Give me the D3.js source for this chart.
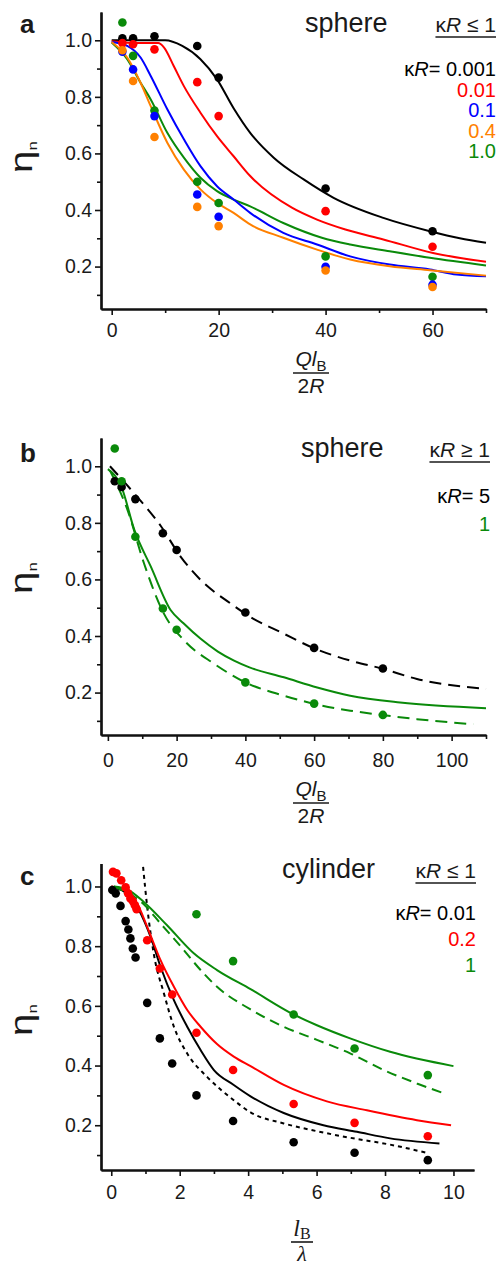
<!DOCTYPE html>
<meta charset="utf-8">
<style>
body { margin: 0; background: #fff; }
svg text { font-family: "Liberation Sans", Arial, sans-serif; fill: #1a1a1a; }
</style>
<body>
<script src="https://d3js.org/d3.v7.min.js"></script>
<script>

// ---------- panel a : sphere, kR <= 1 ----------
var aPtsX    = [2, 4, 8, 16, 20, 40, 60];
var aPts0001 = [1.007, 1.007, 1.014, 0.98, 0.868, 0.476, 0.325];
var aPts001  = [0.99, 0.986, 0.968, 0.852, 0.732, 0.396, 0.27];
var aPts01   = [0.96, 0.897, 0.732, 0.455, 0.376, 0.199, 0.136];
var aPts04   = [0.965, 0.856, 0.658, 0.411, 0.343, 0.186, 0.128];
var aPts10   = [1.063, 0.945, 0.752, 0.5, 0.425, 0.236, 0.164];

var aFit0001X = [0, 5, 10, 13.2, 16.6, 19.7, 22.8, 25.9, 30.3, 35.9, 41.5, 50.8, 59.5, 65.1, 70];
var aFit0001Y = [1.0, 1.0, 1.0, 0.98, 0.933, 0.862, 0.76, 0.673, 0.585, 0.508, 0.443, 0.372, 0.325, 0.3, 0.284];
var aFit001X  = [0, 5, 8.7, 9.8, 11.6, 13.5, 16.6, 19.7, 22.8, 25.9, 33.7, 38.4, 43.7, 50.8, 60.1, 70];
var aFit001Y  = [0.997, 0.99, 0.99, 0.974, 0.909, 0.838, 0.744, 0.661, 0.59, 0.52, 0.408, 0.366, 0.331, 0.296, 0.248, 0.217];
var aFit01X   = [0, 2.9, 5.4, 7.3, 10.4, 13.5, 16.6, 19.7, 22.8, 25.9, 32.1, 38.4, 44.6, 52, 59.5, 64.5, 70];
var aFit01Y   = [0.994, 0.98, 0.939, 0.874, 0.756, 0.65, 0.555, 0.484, 0.437, 0.39, 0.319, 0.278, 0.236, 0.207, 0.19, 0.172, 0.166];
var aFit04X   = [0, 2.9, 5.4, 7.3, 10.4, 13.5, 16.6, 19.7, 22.8, 25.9, 32.1, 38.4, 44.6, 52, 59.5, 70];
var aFit04Y   = [0.994, 0.939, 0.85, 0.767, 0.638, 0.543, 0.473, 0.425, 0.39, 0.349, 0.302, 0.26, 0.225, 0.201, 0.187, 0.168];
var aFit10X   = [0, 2.9, 5.4, 7.3, 10.4, 13.5, 16.6, 19.7, 22.8, 25.9, 32.1, 39.3, 44.6, 52, 59.5, 70];
var aFit10Y   = [0.992, 0.933, 0.85, 0.791, 0.673, 0.585, 0.514, 0.467, 0.437, 0.413, 0.354, 0.302, 0.278, 0.254, 0.231, 0.204];

var aLegend = ["0.001", "0.01", "0.1", "0.4", "1.0"];

// ---------- panel b : sphere, kR >= 1 ----------
var bPtsX  = [2, 4, 8, 16, 20, 40, 60, 80];
var bPts5  = [0.947, 0.927, 0.884, 0.763, 0.704, 0.483, 0.358, 0.285];
var bPts1  = [1.063, 0.947, 0.751, 0.497, 0.422, 0.236, 0.161, 0.121];

var bDash5X  = [0.6, 7.6, 15.5, 21.2, 27, 35.7, 41.5, 51.2, 59.7, 70.5, 79.7, 89.9, 110];
var bDash5Y  = [1.0, 0.905, 0.787, 0.68, 0.598, 0.515, 0.467, 0.408, 0.358, 0.313, 0.285, 0.248, 0.213];
var bSolid1X = [0, 3.9, 7.7, 12.5, 18.3, 22, 27, 32, 36.7, 41, 51.2, 60.9, 70.5, 85, 110];
var bSolid1Y = [0.99, 0.929, 0.775, 0.645, 0.491, 0.445, 0.39, 0.345, 0.313, 0.29, 0.254, 0.218, 0.189, 0.165, 0.145];
var bDash1X  = [0.6, 5.7, 10.5, 16.3, 22.2, 30.9, 40, 51.2, 59.7, 70.5, 79.7, 89.9, 106.3];
var bDash1Y  = [0.985, 0.846, 0.657, 0.479, 0.384, 0.302, 0.236, 0.189, 0.161, 0.136, 0.121, 0.106, 0.088];

var bLegend = ["5", "1"];

// ---------- panel c : cylinder, kR <= 1 ----------
var cPts001X = [0.03, 0.13, 0.27, 0.42, 0.5, 0.56, 0.63, 0.71, 1.05, 1.42, 1.78, 2.49, 3.56, 5.33, 7.11, 9.25];
var cPts001Y = [0.988, 0.977, 0.935, 0.884, 0.856, 0.826, 0.792, 0.762, 0.61, 0.491, 0.407, 0.3, 0.214, 0.143, 0.108, 0.083];
var cPts02X  = [0.05, 0.15, 0.29, 0.42, 0.49, 0.56, 0.63, 0.69, 0.74, 1.05, 1.42, 1.78, 2.49, 3.56, 5.33, 7.11, 9.25];
var cPts02Y  = [1.049, 1.044, 1.021, 0.997, 0.977, 0.96, 0.951, 0.937, 0.924, 0.82, 0.725, 0.638, 0.51, 0.385, 0.271, 0.208, 0.163];
var cPts1X   = [2.49, 3.56, 5.33, 7.11, 9.25];
var cPts1Y   = [0.907, 0.75, 0.571, 0.457, 0.368];

var cFit001X = [0, 0.61, 0.81, 1.15, 1.44, 1.83, 2.22, 2.61, 3.0, 3.58, 4.07, 5.04, 6.2, 7.18, 8.15, 9.59];
var cFit001Y = [1.0, 0.96, 0.921, 0.831, 0.731, 0.619, 0.53, 0.452, 0.385, 0.335, 0.297, 0.241, 0.2, 0.178, 0.156, 0.139];
var cDotX    = [0.93, 1.05, 1.24, 1.54, 1.83, 2.22, 2.8, 3.58, 4.07, 5.04, 6.01, 6.98, 8.15, 9.2];
var cDotY    = [1.066, 0.932, 0.776, 0.641, 0.53, 0.44, 0.362, 0.284, 0.243, 0.206, 0.18, 0.158, 0.135, 0.108];
var cFit02X  = [0, 0.47, 0.76, 1.05, 1.44, 1.83, 2.22, 2.61, 3.09, 3.58, 4.07, 5.04, 6.3, 7.47, 8.93, 9.93];
var cFit02Y  = [1.0, 0.988, 0.943, 0.865, 0.753, 0.664, 0.586, 0.53, 0.472, 0.43, 0.398, 0.335, 0.28, 0.25, 0.217, 0.2];
var cFit1X   = [0.08, 0.47, 0.95, 1.63, 2.41, 3.09, 4.07, 5.33, 6.01, 6.98, 8.15, 10];
var cFit1Y   = [1.0, 0.99, 0.948, 0.87, 0.776, 0.72, 0.656, 0.571, 0.535, 0.491, 0.446, 0.398];
var cDash1X  = [0.08, 0.95, 1.44, 2.12, 2.61, 3.09, 4.07, 5.04, 6.01, 6.98, 7.96, 8.93, 9.79];
var cDash1Y  = [1.0, 0.94, 0.876, 0.787, 0.72, 0.664, 0.588, 0.53, 0.486, 0.441, 0.385, 0.34, 0.304];

var cLegend = ["0.01", "0.2", "1"];

var yMajor = [0.2, 0.4, 0.6, 0.8, 1.0];
var yMinor = [0.1, 0.3, 0.5, 0.7, 0.9];

var BLACK = "#000000", RED = "#ff0000", BLUE = "#0000ff", ORANGE = "#ff8000", GREEN = "#0a8a0a";

var svg = d3.select("body").append("svg")
    .attr("width", 498)
    .attr("height", 1266);

function zip(xs, ys) {
  return xs.map(function(x, i) { return [x, ys[i]]; });
}

function drawPanel(p) {
  var g = svg.append("g");
  var x = d3.scaleLinear().domain(p.xDomain).range(p.xRange);
  var y = d3.scaleLinear().domain(p.yDomain).range(p.yRange);
  var bottom = p.yRange[0];

  // axes
  g.append("g").attr("transform", "translate(" + p.xRange[0] + ",0)")
      .call(d3.axisLeft(y).tickValues(yMajor).tickSize(6).tickSizeOuter(0).tickPadding(3).tickFormat(d3.format(".1f")));
  g.append("g").attr("transform", "translate(" + p.xRange[0] + ",0)")
      .call(d3.axisLeft(y).tickValues(yMinor).tickSize(4).tickSizeOuter(0).tickFormat(""));
  g.append("g").attr("transform", "translate(0," + bottom + ")")
      .call(d3.axisBottom(x).tickValues(p.xMajor).tickSize(6).tickSizeOuter(0).tickPadding(p.xPad).tickFormat(d3.format("d")));
  g.append("g").attr("transform", "translate(0," + bottom + ")")
      .call(d3.axisBottom(x).tickValues(p.xMinor).tickSize(4).tickSizeOuter(0).tickFormat(""));

  g.selectAll(".domain").attr("stroke", "#111").attr("stroke-width", 2.2);
  g.selectAll(".tick line").attr("stroke", "#111").attr("stroke-width", 1.6);
  g.selectAll(".tick text").attr("font-size", 19.5).attr("fill", "#1a1a1a")
      .attr("font-family", "Liberation Sans, Arial, sans-serif");

  // curves
  var line = d3.line()
      .x(function(d) { return x(d[0]); })
      .y(function(d) { return y(d[1]); })
      .curve(d3.curveMonotoneX);
  p.curves.forEach(function(c) {
    g.append("path")
        .datum(zip(c.x, c.y))
        .attr("d", line)
        .attr("fill", "none")
        .attr("stroke", c.color)
        .attr("stroke-width", 2)
        .attr("stroke-dasharray", c.dash || null);
  });

  // points
  p.points.forEach(function(s) {
    g.append("g").selectAll("circle")
        .data(zip(s.x, s.y))
        .enter().append("circle")
        .attr("cx", function(d) { return x(d[0]); })
        .attr("cy", function(d) { return y(d[1]); })
        .attr("r", p.r)
        .attr("fill", s.color);
  });

  // panel letter
  g.append("text").attr("x", 20).attr("y", p.letterY)
      .attr("font-size", 26).attr("font-weight", "bold").attr("fill", "#1a1a1a").text(p.letter);

  // shape title
  g.append("text").attr("x", p.titleX).attr("y", p.titleY)
      .attr("font-size", 27).text(p.title);

  // header kR <= 1, underlined
  var hd = g.append("text").attr("x", p.right).attr("y", p.titleY)
      .attr("text-anchor", "end").attr("font-size", 21);
  hd.append("tspan").text("\u03BA");
  hd.append("tspan").attr("font-style", "italic").text("R");
  hd.append("tspan").text(" " + p.rel + " 1");
  var hw = hd.node().getComputedTextLength();
  g.append("line")
      .attr("x1", p.right - hw).attr("x2", p.right)
      .attr("y1", p.titleY + 5).attr("y2", p.titleY + 5)
      .attr("stroke", "#1a1a1a").attr("stroke-width", 1.5);

  // legend
  p.legend.forEach(function(lab, i) {
    var t = g.append("text").attr("x", p.right).attr("y", p.legendY + i * p.legendStep)
        .attr("text-anchor", "end").attr("font-size", 20)
        .style("fill", p.legendColors[i]);
    if (i === 0) {
      t.append("tspan").text("\u03BA");
      t.append("tspan").attr("font-style", "italic").text("R");
      t.append("tspan").text("= " + lab);
    } else {
      t.text(lab);
    }
  });

  // y label eta_n
  var yl = g.append("text")
      .attr("transform", "translate(32," + p.etaY + ") rotate(-90) scale(1.3,1)")
      .attr("text-anchor", "middle");
  yl.append("tspan").attr("font-size", 31).text("\u03B7");
  yl.append("tspan").attr("font-size", 13).attr("dy", 5).text("n");

  // x label fraction
  var cx = p.fracX;
  if (p.serif) {
    var num = g.append("text").attr("x", cx).attr("y", p.fracY - 6).attr("text-anchor", "middle")
        .style("font-family", "Liberation Serif, serif");
    num.append("tspan").attr("font-size", 24).attr("font-style", "italic").text("l");
    num.append("tspan").attr("font-size", 16).attr("dy", 3).text("B");
    g.append("line").attr("x1", cx - 11).attr("x2", cx + 11)
        .attr("y1", p.fracY).attr("y2", p.fracY).attr("stroke", "#1a1a1a").attr("stroke-width", 1.6);
    g.append("text").attr("x", cx).attr("y", p.fracY + 19).attr("text-anchor", "middle")
        .style("font-family", "Liberation Serif, serif")
        .attr("font-size", 22).attr("font-style", "italic").text("\u03BB");
  } else {
    var nm = g.append("text").attr("x", cx).attr("y", p.fracY - 7).attr("text-anchor", "middle");
    nm.append("tspan").attr("font-size", 21).attr("font-style", "italic").text("Ql");
    nm.append("tspan").attr("font-size", 15).attr("dy", 5).text("B");
    g.append("line").attr("x1", cx - 18).attr("x2", cx + 18)
        .attr("y1", p.fracY).attr("y2", p.fracY).attr("stroke", "#1a1a1a").attr("stroke-width", 1.6);
    var dn = g.append("text").attr("x", cx).attr("y", p.fracY + 20).attr("text-anchor", "middle")
        .attr("font-size", 21);
    dn.append("tspan").text("2");
    dn.append("tspan").attr("font-style", "italic").text("R");
  }
}

drawPanel({
  letter: "a", letterY: 33,
  xDomain: [-2, 70], xRange: [101, 486],
  yDomain: [0.05, 1.1], yRange: [309, 12],
  xMajor: [0, 20, 40, 60], xMinor: [10, 30, 50, 70], xPad: 8,
  r: 4.3,
  title: "sphere", titleX: 305, titleY: 32, right: 496, rel: "\u2264",
  legend: aLegend, legendColors: [BLACK, RED, BLUE, ORANGE, GREEN], legendY: 76, legendStep: 20.5,
  etaY: 157, fracX: 311, fracY: 373,
  curves: [
    {x: aFit0001X, y: aFit0001Y, color: BLACK},
    {x: aFit001X, y: aFit001Y, color: RED},
    {x: aFit10X, y: aFit10Y, color: GREEN},
    {x: aFit01X, y: aFit01Y, color: BLUE},
    {x: aFit04X, y: aFit04Y, color: ORANGE}
  ],
  points: [
    {x: aPtsX, y: aPts10, color: GREEN},
    {x: aPtsX, y: aPts0001, color: BLACK},
    {x: aPtsX, y: aPts001, color: RED},
    {x: aPtsX, y: aPts01, color: BLUE},
    {x: aPtsX, y: aPts04, color: ORANGE}
  ]
});

drawPanel({
  letter: "b", letterY: 462,
  xDomain: [-2, 110], xRange: [101, 486],
  yDomain: [0.05, 1.1], yRange: [735, 438],
  xMajor: [0, 20, 40, 60, 80, 100], xMinor: [10, 30, 50, 70, 90, 110], xPad: 12,
  r: 4.3,
  title: "sphere", titleX: 301, titleY: 457, right: 490, rel: "\u2265",
  legend: bLegend, legendColors: [BLACK, GREEN], legendY: 503, legendStep: 28,
  etaY: 578, fracX: 311, fracY: 803,
  curves: [
    {x: bDash5X, y: bDash5Y, color: BLACK, dash: "12,7"},
    {x: bSolid1X, y: bSolid1Y, color: GREEN},
    {x: bDash1X, y: bDash1Y, color: GREEN, dash: "12,7"}
  ],
  points: [
    {x: bPtsX, y: bPts5, color: BLACK},
    {x: bPtsX, y: bPts1, color: GREEN}
  ]
});

drawPanel({
  letter: "c", letterY: 885,
  xDomain: [-0.3, 10.6], xRange: [101, 474],
  yDomain: [0.05, 1.077], yRange: [1170, 863.5],
  xMajor: [0, 2, 4, 6, 8, 10], xMinor: [1, 3, 5, 7, 9], xPad: 9,
  r: 4.3,
  title: "cylinder", titleX: 282, titleY: 878, right: 476, rel: "\u2264",
  legend: cLegend, legendColors: [BLACK, RED, GREEN], legendY: 920, legendStep: 26,
  etaY: 1020, fracX: 302, fracY: 1242, serif: true,
  curves: [
    {x: cFit001X, y: cFit001Y, color: BLACK},
    {x: cDotX, y: cDotY, color: BLACK, dash: "4,4"},
    {x: cFit02X, y: cFit02Y, color: RED},
    {x: cFit1X, y: cFit1Y, color: GREEN},
    {x: cDash1X, y: cDash1Y, color: GREEN, dash: "10,6"}
  ],
  points: [
    {x: cPts001X, y: cPts001Y, color: BLACK},
    {x: cPts02X, y: cPts02Y, color: RED},
    {x: cPts1X, y: cPts1Y, color: GREEN}
  ]
});

</script>
</body>
